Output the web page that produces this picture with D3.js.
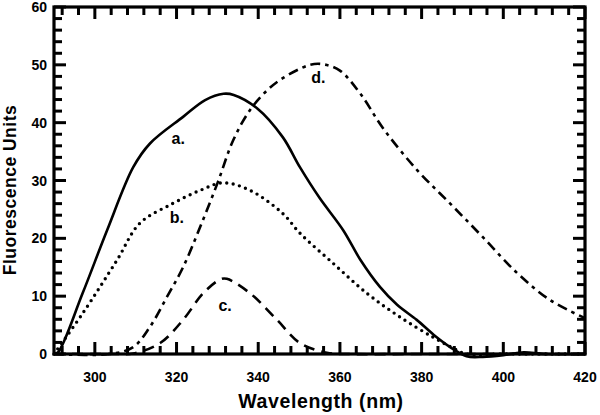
<!DOCTYPE html>
<html><head><meta charset="utf-8">
<script src="https://cdn.jsdelivr.net/npm/d3@7"></script>
<style>body{margin:0;background:#fff}svg{display:block}</style>
</head><body>
<script>
// ---- data ----
const seriesA_x = [290, 291, 297, 303, 309.4, 313.5, 321.6, 327, 331.5, 334, 339.7, 346, 350.2, 355, 360.8, 365, 369.8, 374, 378.8, 383, 387, 391, 395, 400, 405, 410, 420];
const seriesA_y = [0, 0.3, 10.5, 21.4, 32.3, 36.4, 41, 43.9, 45, 44.8, 42.5, 37.5, 32.3, 27, 21.4, 16.3, 11.6, 8.5, 5.9, 3.3, 1.2, -0.4, -0.5, -0.2, 0.3, 0, 0];
const seriesB_x = [290, 297, 305.4, 311, 319, 325.8, 331.4, 338, 346, 350.2, 358.3, 366.6, 374.7, 382.8, 388.6, 391, 400, 420];
const seriesB_y = [0, 7, 16.2, 22.6, 26, 28.3, 29.6, 28.3, 24.3, 20.9, 15.7, 10.5, 6.4, 2.9, 0.7, 0, 0, 0];
const seriesC_x = [290, 305, 309.4, 316, 321.6, 326.5, 330.7, 332.3, 338, 344.6, 350.2, 356.8, 362, 380, 420];
const seriesC_y = [0, 0, 0.1, 1.9, 5.9, 10.5, 12.9, 13, 10.5, 5.9, 1.9, 0.2, 0, 0, 0];
const seriesD_x = [290, 303.7, 309.4, 313.5, 317.6, 321.6, 325.8, 330, 333.9, 338, 342.2, 346, 352.7, 355.9, 360, 365, 370.6, 378.9, 387, 395, 403.4, 411.5, 420];
const seriesD_y = [0, 0, 1.2, 4.7, 9.8, 15, 22, 29.5, 37, 42.2, 45.6, 47.7, 50, 50.1, 49, 45, 39, 31.8, 26, 20.2, 14, 9.3, 6.2];
const curveLabels = ["a.", "b.", "c.", "d."];
const labelAt = [[320.4, 36.3], [320.1, 22.7], [331.9, 7.4], [354.7, 46.9]];
const xTicks = [300, 320, 340, 360, 380, 400, 420];
const yTicks = [0, 10, 20, 30, 40, 50, 60];
const xTitle = "Wavelength (nm)";
const yTitle = "Fluorescence Units";

// ---- chart ----
const W = 600, H = 415;
const m = {l: 54, r: 15, t: 7, b: 61};
const svg = d3.select("body").append("svg").attr("width", W).attr("height", H);
const x = d3.scaleLinear().domain([290, 420]).range([m.l, W - m.r]);
const y = d3.scaleLinear().domain([0, 60]).range([H - m.b, m.t]);
const font = "'Liberation Sans', Arial, sans-serif";

const line = d3.line().x(d => x(d[0])).y(d => y(d[1])).curve(d3.curveCatmullRom.alpha(0.5));
const series = [
  {xs: seriesA_x, ys: seriesA_y, dash: null, cap: "butt"},
  {xs: seriesB_x, ys: seriesB_y, dash: "0,6.5", cap: "round"},
  {xs: seriesC_x, ys: seriesC_y, dash: "11,7", cap: "butt"},
  {xs: seriesD_x, ys: seriesD_y, dash: "10,5,3.5,5", cap: "butt"}
];
series.forEach(s => {
  svg.append("path").datum(s.xs.map((v, i) => [v, s.ys[i]]))
    .attr("d", line).attr("fill", "none").attr("stroke", "#000")
    .attr("stroke-width", s.cap === "round" ? 3.4 : 2.6)
    .attr("stroke-dasharray", s.dash).attr("stroke-linecap", s.cap);
});

// frame
svg.append("rect").attr("x", m.l).attr("y", m.t).attr("width", W - m.r - m.l).attr("height", H - m.b - m.t)
  .attr("fill", "none").attr("stroke", "#000").attr("stroke-width", 3.2);

// ticks (inward, all four sides)
const xMinor = d3.range(292, 420, 4).filter(v => v % 20 !== 0);
const yMinor = d3.range(2, 60, 2).filter(v => v % 10 !== 0);
const segs = [];
xTicks.map(v => [v, 12]).concat(xMinor.map(v => [v, 8])).forEach(([v, L]) => {
  segs.push([x(v), y(0), x(v), y(0) - L]);
  segs.push([x(v), y(60), x(v), y(60) + L]);
});
yTicks.map(v => [v, 12]).concat(yMinor.map(v => [v, 8])).forEach(([v, L]) => {
  segs.push([x(290), y(v), x(290) + L, y(v)]);
  segs.push([x(420), y(v), x(420) - L, y(v)]);
});
svg.append("g").selectAll("line").data(segs).join("line")
  .attr("x1", d => d[0]).attr("y1", d => d[1]).attr("x2", d => d[2]).attr("y2", d => d[3])
  .attr("stroke", "#000").attr("stroke-width", 3);

// tick labels
svg.append("g").selectAll("text").data(xTicks).join("text")
  .attr("x", d => x(d)).attr("y", y(0) + 28).attr("text-anchor", "middle")
  .attr("font-family", font).attr("font-weight", "bold").attr("font-size", 14).text(d => d);
svg.append("g").selectAll("text").data(yTicks).join("text")
  .attr("x", x(290) - 7).attr("y", d => y(d) + 5).attr("text-anchor", "end")
  .attr("font-family", font).attr("font-weight", "bold").attr("font-size", 14).text(d => d);

// curve labels
curveLabels.forEach((t, i) => {
  svg.append("text").attr("x", x(labelAt[i][0])).attr("y", y(labelAt[i][1])).attr("text-anchor", "middle")
    .attr("font-family", font).attr("font-weight", "bold").attr("font-size", 16).text(t);
});

// titles
svg.append("text").attr("x", 321).attr("y", 408).attr("text-anchor", "middle")
  .attr("font-family", font).attr("font-weight", "bold").attr("font-size", 19.5).attr("letter-spacing", 0.6).text(xTitle);
svg.append("text").attr("transform", `translate(16,190) rotate(-90)`).attr("text-anchor", "middle")
  .attr("font-family", font).attr("font-weight", "bold").attr("font-size", 17.5).attr("letter-spacing", 0.5).text(yTitle);
</script>
</body></html>
